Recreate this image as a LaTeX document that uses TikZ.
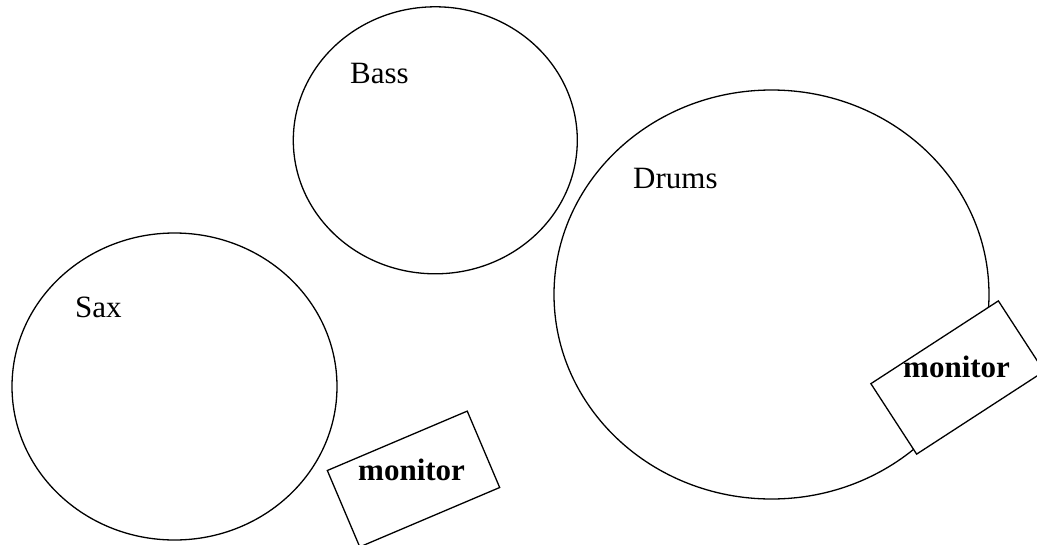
\documentclass[tikz,border=0pt]{standalone}
\usepackage{fontspec}
\setmainfont{Liberation Serif}
\usetikzlibrary{shapes.geometric}
\begin{document}
\begin{tikzpicture}[x=1pt,y=-1pt,
  ring/.style={draw,ellipse,line width=1.3pt,inner sep=0pt},
  monbox/.style={draw,fill=white,line width=1.3pt,inner sep=0pt,minimum width=152pt,minimum height=83pt},
  lbl/.style={inner sep=0pt,anchor=base west,font=\fontsize{31}{36}\selectfont},
  mlbl/.style={inner sep=0pt,anchor=base west,font=\fontsize{31}{36}\selectfont\bfseries}]
\useasboundingbox (0,0) rectangle (1037,544);
\clip (0,0) rectangle (1037,544);
\node[ring,minimum width=325pt,minimum height=307pt] (sax) at (174.5,386.5) {};
\node[ring,minimum width=284pt,minimum height=267pt] (bass) at (435.3,140.3) {};
\node[ring,minimum width=435pt,minimum height=409pt] (drums) at (771.5,294.5) {};
\node[monbox,rotate=23] (mon1) at (413.5,479) {};
\node[monbox,rotate=33,minimum height=84pt] (mon2) at (957.5,377.5) {};
\node[lbl] (saxt) at (75,317) {Sax};
\node[lbl] (basst) at (350,83.3) {Bass};
\node[lbl] (drumst) at (633,188) {Drums};
\node[mlbl] (mon1t) at (358,480) {monitor};
\node[mlbl] (mon2t) at (903,377) {monitor};
\end{tikzpicture}
\end{document}
